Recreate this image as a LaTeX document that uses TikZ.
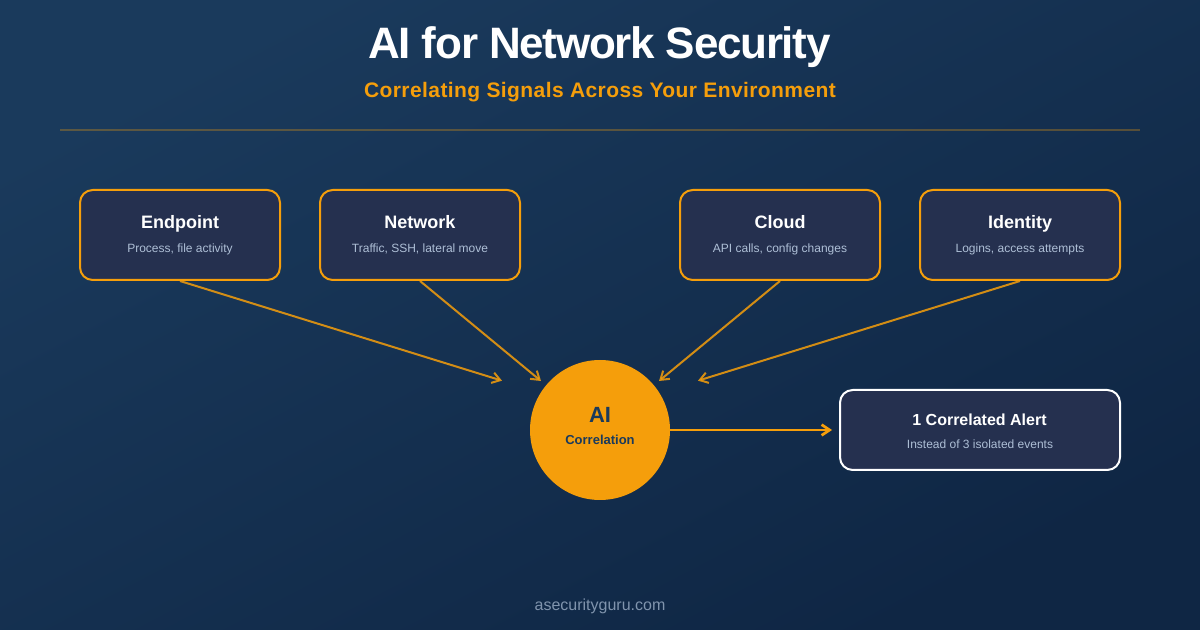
\documentclass[tikz,border=0pt]{standalone}
\usepackage{fontspec}
\setmainfont{Liberation Sans}
\usetikzlibrary{arrows.meta}
\definecolor{bgtop}{HTML}{1A3A5C}
\definecolor{bgbottom}{HTML}{0F2644}
\definecolor{boxfill}{HTML}{25304F}
\definecolor{signal}{HTML}{F59E0B}
\definecolor{subtext}{HTML}{AEBFD6}
\definecolor{footertext}{HTML}{8094AD}
\begin{document}
\begin{tikzpicture}[x=0.75pt,y=-0.75pt,>={Straight Barb[length=6pt,width=8pt]},
  srcbox/.style={draw=signal,fill=boxfill,line width=1.5pt,rounded corners=9.5pt,minimum width=150pt,minimum height=67.5pt,inner sep=0pt},
  alertbox/.style={srcbox,draw=white,minimum width=210pt,minimum height=60pt},
  boxtitle/.style={anchor=base,text=white,inner sep=0pt,font=\bfseries\fontsize{13.5pt}{16pt}\selectfont},
  boxsub/.style={anchor=base,text=subtext,inner sep=0pt,font=\fontsize{9pt}{11pt}\selectfont},
  feed/.style={->,draw=signal,draw opacity=0.85,line width=1.5pt}]
% Background
\shade[top color=bgtop,bottom color=bgbottom,shading angle=27.7] (0,0) rectangle (1200,630);
\useasboundingbox (0,0) rectangle (1200,630);
% Heading
\node[anchor=base,text=white,inner sep=0pt,font=\bfseries\fontsize{33pt}{40pt}\selectfont\addfontfeatures{LetterSpace=-2.9}] (title) at (599.5,59) {AI for Network Security};
\node[anchor=base,text=signal,inner sep=0pt,font=\bfseries\fontsize{15.75pt}{18pt}\selectfont\addfontfeatures{LetterSpace=2}] (subtitle) at (600,98) {Correlating Signals Across Your Environment};
\coordinate (rule_left) at (60,130);
\coordinate (rule_right) at (1140,130);
\draw[signal,draw opacity=0.3,line width=1.5pt] (rule_left) -- (rule_right);
% Endpoint
\node[srcbox] (endpoint) at (180,235) {};
\node[boxtitle] (endpoint_title) at (180,229) {Endpoint};
\node[boxsub] (endpoint_sub) at (180,253) {Process, file activity};
% Network
\node[srcbox] (network) at (420,235) {};
\node[boxtitle] (network_title) at (420,229) {Network};
\node[boxsub] (network_sub) at (420,253) {Traffic, SSH, lateral move};
% Cloud
\node[srcbox] (cloud) at (780,235) {};
\node[boxtitle] (cloud_title) at (780,229) {Cloud};
\node[boxsub] (cloud_sub) at (780,253) {API calls, config changes};
% Identity
\node[srcbox] (identity) at (1020,235) {};
\node[boxtitle] (identity_title) at (1020,229) {Identity};
\node[boxsub] (identity_sub) at (1020,253) {Logins, access attempts};
% AI correlation
\node[circle,fill=signal,minimum size=105pt,inner sep=0pt] (engine) at (600,430) {};
\node[anchor=base,text=bgtop,inner sep=0pt,font=\bfseries\fontsize{16.5pt}{20pt}\selectfont] (engine_title) at (600,423) {AI};
\node[anchor=base,text=bgtop,inner sep=0pt,font=\bfseries\fontsize{9.75pt}{12pt}\selectfont] (engine_sub) at (600,444.5) {Correlation};
% Alert
\node[alertbox] (alert) at (980,430) {};
\node[boxtitle,font=\bfseries\fontsize{12pt}{14pt}\selectfont] (alert_title) at (979.5,426) {1 Correlated Alert};
\node[boxsub] (alert_sub) at (980,449) {Instead of 3 isolated events};
% Free ends of the arrows
\coordinate (in_a) at (502,380.7);
\coordinate (in_b) at (541,381);
\coordinate (in_c) at (659,381);
\coordinate (in_d) at (698,380.7);
\coordinate (out_a) at (832,430);
% Draw the arrows
\draw[feed] (endpoint.south) -- (in_a);
\draw[feed] (network.south) -- (in_b);
\draw[feed] (cloud.south) -- (in_c);
\draw[feed] (identity.south) -- (in_d);
\draw[->,signal,line width=2pt] (engine.east) -- (out_a);
% Footer
\node[anchor=base,text=footertext,inner sep=0pt,font=\fontsize{12pt}{14pt}\selectfont] (footer) at (600,610) {asecurityguru.com};
\end{tikzpicture}
\end{document}
